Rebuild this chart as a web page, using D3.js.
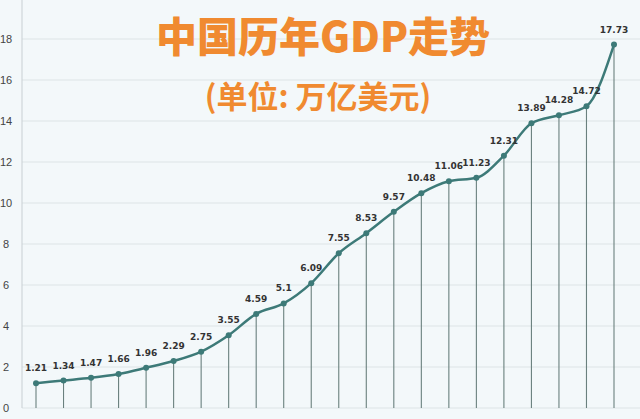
<!DOCTYPE html><html><head><meta charset="utf-8"><script src="https://cdn.jsdelivr.net/npm/d3@7"></script>
<style>body{margin:0;background:#f3f8fa}</style></head><body><svg width="640" height="419"></svg><script>
const years=d3.range(2000,2022);
const gdp=[1.21,1.34,1.47,1.66,1.96,2.29,2.75,3.55,4.59,5.1,6.09,7.55,8.53,9.57,10.48,11.06,11.23,12.31,13.89,14.28,14.72,17.73];
const yTicks=[0,2,4,6,8,10,12,14,16,18];
const svg=d3.select("svg");
svg.append("rect").attr("width",640).attr("height",419).attr("fill","#f3f8fa");
const x=d3.scaleLinear().domain([0,gdp.length-1]).range([36,614]);
const y=d3.scaleLinear().domain([0,18]).range([408,39]);
svg.append("g").selectAll("line").data(yTicks).join("line").attr("x1",22).attr("x2",640).attr("y1",d=>y(d)).attr("y2",d=>y(d)).attr("stroke","#dde3e6").attr("stroke-width",1.2);
svg.append("line").attr("x1",22).attr("x2",22).attr("y1",0).attr("y2",408).attr("stroke","#c8cfd3");
svg.append("g").selectAll("text").data(yTicks).join("text").attr("x",6).attr("y",d=>y(d)+4).attr("text-anchor","middle").attr("font-family","Liberation Sans").attr("font-size",11).attr("fill","#444").text(d=>d);
svg.append("g").selectAll("line").data(gdp).join("line").attr("x1",(d,i)=>x(i)).attr("x2",(d,i)=>x(i)).attr("y1",d=>y(d)).attr("y2",408).attr("stroke","#6a807e").attr("stroke-width",1.1);
svg.append("path").datum(gdp).attr("d",d3.line().x((d,i)=>x(i)).y(d=>y(d)).curve(d3.curveMonotoneX)).attr("fill","none").attr("stroke","#3d7a78").attr("stroke-width",2.5);
svg.append("g").selectAll("circle").data(gdp).join("circle").attr("cx",(d,i)=>x(i)).attr("cy",d=>y(d)).attr("r",3).attr("fill","#3d7a78");
svg.append("g").selectAll("text").data(gdp).join("text").attr("x",(d,i)=>x(i)).attr("y",d=>y(d)-12).attr("text-anchor","middle").attr("font-family","DejaVu Sans").attr("font-weight","bold").attr("font-size",9).attr("fill","#333").text(d=>d);
svg.append("text").attr("x",323).attr("y",52).attr("text-anchor","middle").attr("font-family","Noto Sans CJK SC").attr("font-weight","900").attr("font-size",41).attr("fill","#f08a30").text("中国历年GDP走势");
svg.append("text").attr("x",318).attr("y",108).attr("text-anchor","middle").attr("font-family","Noto Sans CJK SC").attr("font-weight","bold").attr("font-size",31).attr("fill","#f08a30").text("(单位: 万亿美元)");
</script></body></html>
